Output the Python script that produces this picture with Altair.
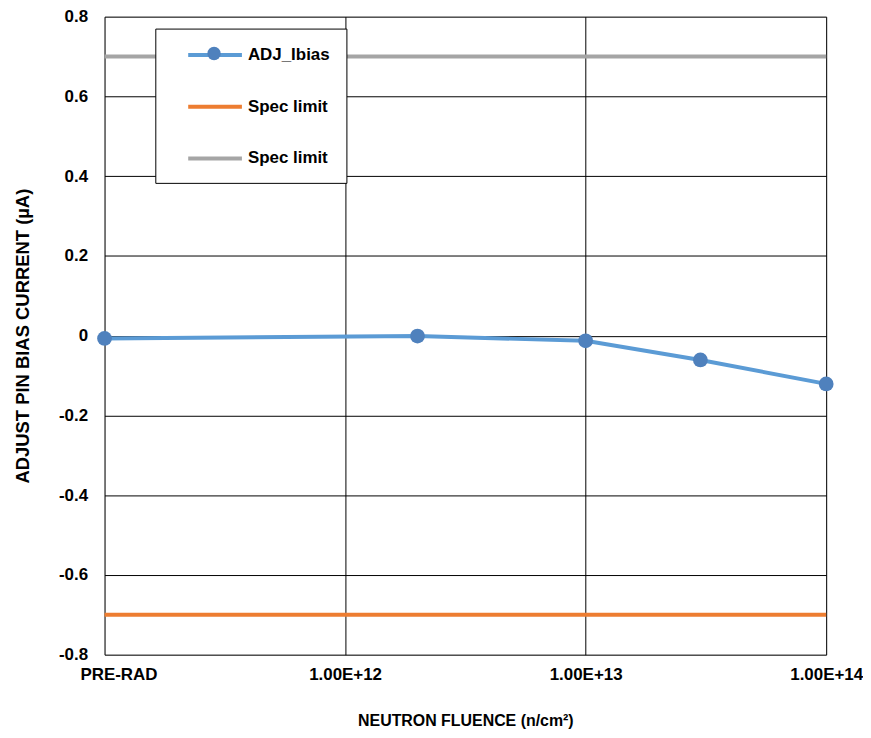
import altair as alt
import pandas as pd

# ---- data ----
fluence = [1e11, 2e12, 1e13, 3e13, 1e14]          # PRE-RAD plotted at 1e11
adj_ibias = [-0.007, -0.001, -0.013, -0.061, -0.121]
spec_x = [1e11, 1e14]
spec_low = [-0.7, -0.7]
spec_high = [0.7, 0.7]

x_ticks = [1e11, 1e12, 1e13, 1e14]
y_ticks = [-0.8, -0.6, -0.4, -0.2, 0, 0.2, 0.4, 0.6, 0.8]

series_names = ["ADJ_Ibias", "Spec limit low", "Spec limit high"]
series_colors = ["#5B9BD5", "#ED7D31", "#A5A5A5"]
marker_color = "#4F81BD"

rows = []
for xv, yv in zip(fluence, adj_ibias):
    rows.append({"fluence": xv, "value": yv, "series": series_names[0]})
for xv, yv in zip(spec_x, spec_low):
    rows.append({"fluence": xv, "value": yv, "series": series_names[1]})
for xv, yv in zip(spec_x, spec_high):
    rows.append({"fluence": xv, "value": yv, "series": series_names[2]})
df = pd.DataFrame(rows)

pts = pd.DataFrame({"fluence": fluence, "value": adj_ibias, "marker": ["ADJ_Ibias marker"] * len(fluence)})

FONT = "Liberation Sans"

x_enc = alt.X(
    "fluence:Q",
    scale=alt.Scale(type="log", domain=[1e11, 1e14], nice=False),
    axis=alt.Axis(
        values=x_ticks,
        labelExpr="datum.value < 2e11 ? 'PRE-RAD' : '1.00E+' + round(log(datum.value) / LN10)",
        title="NEUTRON FLUENCE (n/cm²)",
        grid=True,
        gridColor="black",
        gridWidth=1,
        gridOpacity=1,
        ticks=False,
        domain=False,
        labelFlush=False,
        labelFont=FONT,
        labelFontSize=17,
        labelFontWeight="bold",
        labelColor="black",
        labelPadding=12,
        labelOffset={"condition": {"test": "datum.value < 2e11", "value": 14}, "value": 0},
        titleFont=FONT,
        titleFontSize=16,
        titleFontWeight="bold",
        titleColor="black",
        titlePadding=30,
    ),
)

y_enc = alt.Y(
    "value:Q",
    scale=alt.Scale(domain=[-0.8, 0.8], nice=False, zero=False),
    axis=alt.Axis(
        values=y_ticks,
        labelExpr="abs(datum.value) < 1e-9 ? '0' : replace(format(datum.value, '.1f'), '\u2212', '-')",
        title="ADJUST PIN BIAS CURRENT (µA)",
        grid=True,
        gridColor="black",
        gridWidth=1,
        gridOpacity=1,
        ticks=False,
        domain=False,
        labelFont=FONT,
        labelFontSize=17,
        labelFontWeight="bold",
        labelColor="black",
        labelPadding=17,
        titleFont=FONT,
        titleFontSize=18.5,
        titleFontWeight="bold",
        titleColor="black",
        titlePadding=26,
    ),
)

legend_path_line = "M0.77,0L7.12,0"

line_legend = alt.Legend(
    title=None,
    orient="none",
    legendX=51,
    legendY=12,
    padding=16,
    strokeColor="black",
    fillColor="white",
    cornerRadius=0,
    symbolType=legend_path_line,
    symbolSize=289,
    symbolStrokeWidth=4,
    labelOffset=56,
    rowPadding=33,
    labelFont=FONT,
    labelFontSize=17,
    labelFontWeight="bold",
    labelColor="black",
    labelExpr="(datum.label == 'ADJ_Ibias' ? 'ADJ_Ibias' : 'Spec limit') + '\u2002'",
    zindex=1,
)

marker_size = 180
marker_legend = alt.Legend(
    title=None,
    orient="none",
    legendX=103,
    legendY=30,
    padding=0,
    symbolType="circle",
    symbolSize=marker_size,
    symbolFillColor=marker_color,
    symbolStrokeColor=marker_color,
    symbolStrokeWidth=0,
    symbolOpacity=1,
    labelExpr="''",
    labelFontSize=1,
    zindex=2,
)

lines = alt.Chart(df).mark_line(strokeWidth=4).encode(
    x=x_enc,
    y=y_enc,
    color=alt.Color("series:N", scale=alt.Scale(domain=series_names, range=series_colors), legend=line_legend),
    detail="series:N",
)

points = alt.Chart(pts).mark_point(filled=True, size=220, color=marker_color, opacity=1).encode(
    x=x_enc,
    y=y_enc,
    shape=alt.Shape("marker:N", scale=alt.Scale(domain=["ADJ_Ibias marker"], range=["circle"]), legend=marker_legend),
)

chart = (
    alt.layer(lines, points)
    .resolve_legend(color="independent", shape="independent")
    .properties(width=725, height=641, padding={"left": 5, "top": -2, "right": 0, "bottom": 0})
    .configure_view(stroke="black", strokeWidth=1)
    .configure(background="white")
)

chart.save("out.html", embed_options={"renderer": "svg", "actions": False})
